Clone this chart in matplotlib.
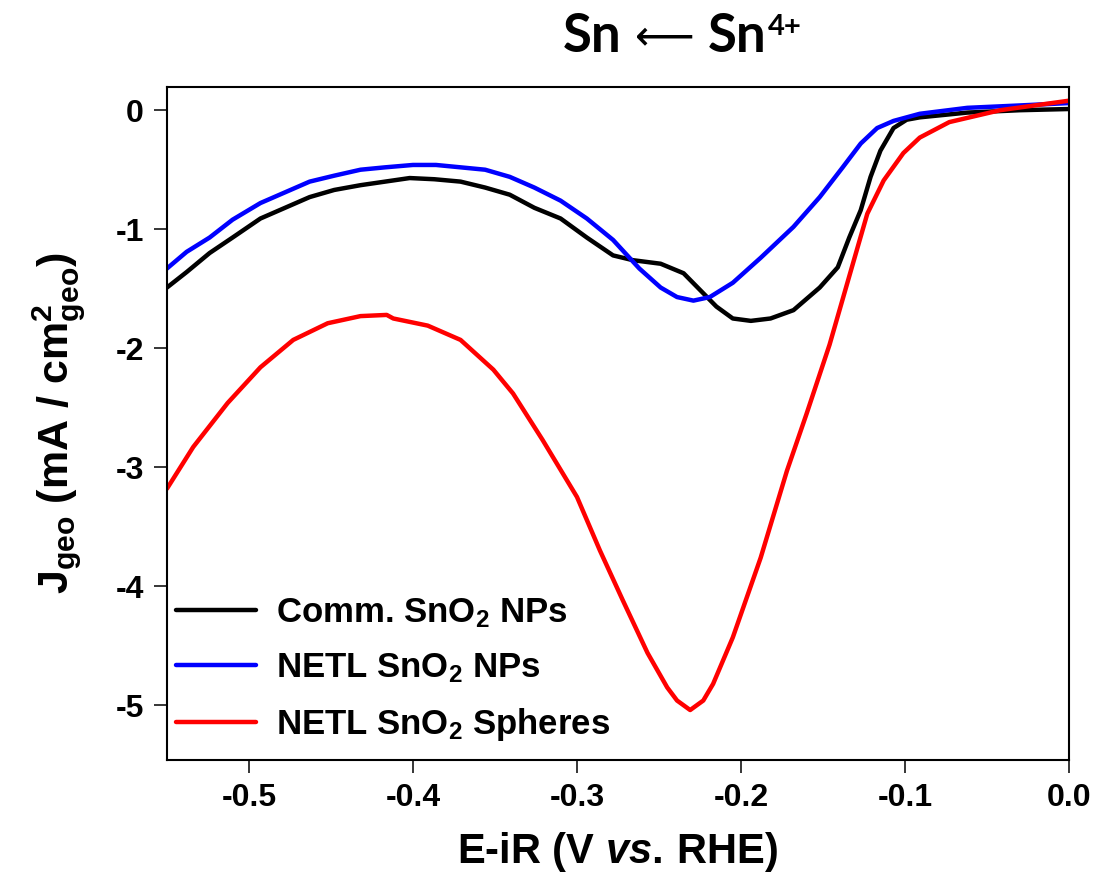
import matplotlib
matplotlib.use("Agg")
import matplotlib.pyplot as plt

# LSV traces, E-iR (V vs. RHE) vs. J_geo (mA/cm2)
comm_x = [-0.550, -0.538, -0.524, -0.510, -0.493, -0.478, -0.463, -0.448, -0.432,
          -0.417, -0.402, -0.387, -0.371, -0.356, -0.341, -0.326, -0.310, -0.294,
          -0.278, -0.266, -0.249, -0.235, -0.225, -0.215, -0.205, -0.194, -0.182,
          -0.168, -0.152, -0.141, -0.134, -0.127, -0.121, -0.115, -0.107, -0.099,
          -0.091, -0.062, -0.030, 0.000]
comm_y = [-1.49, -1.36, -1.20, -1.07, -0.91, -0.82, -0.73, -0.67, -0.63,
          -0.60, -0.57, -0.58, -0.60, -0.65, -0.71, -0.82, -0.91, -1.07,
          -1.22, -1.26, -1.29, -1.37, -1.51, -1.65, -1.75, -1.77, -1.75,
          -1.68, -1.49, -1.32, -1.07, -0.84, -0.56, -0.34, -0.15, -0.08,
          -0.06, -0.02, 0.00, 0.01]

netl_np_x = [-0.550, -0.538, -0.524, -0.510, -0.493, -0.478, -0.463, -0.448, -0.432,
             -0.417, -0.400, -0.386, -0.371, -0.356, -0.341, -0.326, -0.310, -0.294,
             -0.278, -0.262, -0.249, -0.239, -0.229, -0.219, -0.205, -0.188, -0.168,
             -0.152, -0.138, -0.127, -0.117, -0.107, -0.091, -0.062, -0.030, 0.000]
netl_np_y = [-1.33, -1.19, -1.07, -0.92, -0.78, -0.69, -0.60, -0.55, -0.50,
             -0.48, -0.46, -0.46, -0.48, -0.50, -0.56, -0.65, -0.76, -0.91,
             -1.09, -1.33, -1.49, -1.57, -1.60, -1.57, -1.45, -1.24, -0.98,
             -0.73, -0.48, -0.28, -0.15, -0.09, -0.03, 0.02, 0.04, 0.06]

netl_sph_x = [-0.550, -0.534, -0.513, -0.493, -0.473, -0.452, -0.432, -0.416, -0.412,
              -0.391, -0.371, -0.351, -0.339, -0.321, -0.300, -0.286, -0.272, -0.257,
              -0.245, -0.239, -0.231, -0.223, -0.217, -0.205, -0.188, -0.172, -0.160,
              -0.146, -0.132, -0.123, -0.113, -0.101, -0.091, -0.073, -0.042, 0.000]
netl_sph_y = [-3.18, -2.83, -2.46, -2.16, -1.93, -1.79, -1.73, -1.72, -1.75,
              -1.81, -1.93, -2.18, -2.38, -2.77, -3.25, -3.70, -4.12, -4.56,
              -4.85, -4.96, -5.04, -4.96, -4.82, -4.43, -3.76, -3.03, -2.55,
              -1.97, -1.30, -0.87, -0.59, -0.36, -0.23, -0.10, 0.00, 0.08]

labels = ["Comm. SnO$_2$ NPs", "NETL SnO$_2$ NPs", "NETL SnO$_2$ Spheres"]
colors = ["black", "blue", "red"]

xticks = [-0.5, -0.4, -0.3, -0.2, -0.1, 0.0]
yticks = [0, -1, -2, -3, -4, -5]

plt.rcParams["font.family"] = ["Liberation Sans", "DejaVu Sans"]
plt.rcParams["font.weight"] = "bold"
plt.rcParams["axes.labelweight"] = "bold"
plt.rcParams["mathtext.fontset"] = "custom"
plt.rcParams["mathtext.rm"] = "Liberation Sans:bold"
plt.rcParams["mathtext.bf"] = "Liberation Sans:bold"
plt.rcParams["mathtext.it"] = "Liberation Sans:bold:italic"

fig = plt.figure(figsize=(10.97, 8.85), dpi=100)
ax = fig.add_axes([0.1522, 0.1412, 0.8223, 0.7605])

for xs, ys, c, lab in zip([comm_x, netl_np_x, netl_sph_x],
                          [comm_y, netl_np_y, netl_sph_y], colors, labels):
    ax.plot(xs, ys, color=c, lw=3.2, label=lab,
            solid_joinstyle="round", solid_capstyle="round")

ax.set_xlim(-0.55, 0.0)
ax.set_ylim(-5.46, 0.195)
ax.set_xticks(xticks)
ax.set_xticklabels([f"{t:.1f}" for t in xticks])
ax.set_yticks(yticks)
ax.set_yticklabels([str(t) for t in yticks])
ax.tick_params(direction="out", length=9.5, width=1.1, labelsize=23, pad=7)
for sp in ax.spines.values():
    sp.set_linewidth(1.5)

ax.set_xlabel("E-iR (V $\\mathit{vs.}\\,$RHE)", fontsize=30, labelpad=12)
ax.set_ylabel("J$_{\\mathrm{geo}}$ (mA / cm$^2_{\\mathrm{geo}}$)", fontsize=31,
              labelpad=20)

ax.legend(loc="lower left", bbox_to_anchor=(0.0, 0.012), frameon=False,
          fontsize=25, handlelength=2.3, handletextpad=0.6,
          labelspacing=0.62, borderaxespad=0.0, borderpad=0.25)

# title built from pieces so the arrow stays thin
t1 = fig.text(0.513, 0.941, "Sn", family="Lato", fontweight="bold",
              fontsize=38, ha="left", va="baseline")
t2 = ax.annotate("\u27f5", xy=(1, 0), xycoords=t1, xytext=(10, 2),
                 textcoords="offset points", fontsize=30, fontweight="normal",
                 family="DejaVu Sans", va="bottom", ha="left")
t3 = ax.annotate("Sn", xy=(1, 0), xycoords=t1, xytext=(62, 0),
                 textcoords="offset points", family="Lato", fontweight="bold",
                 fontsize=38, va="bottom", ha="left")
ax.annotate("4+", xy=(1, 1), xycoords=t3, xytext=(1, -1),
            textcoords="offset points", family="Lato", fontweight="bold",
            fontsize=21, va="top", ha="left")

fig.savefig("out.png", dpi=100)
